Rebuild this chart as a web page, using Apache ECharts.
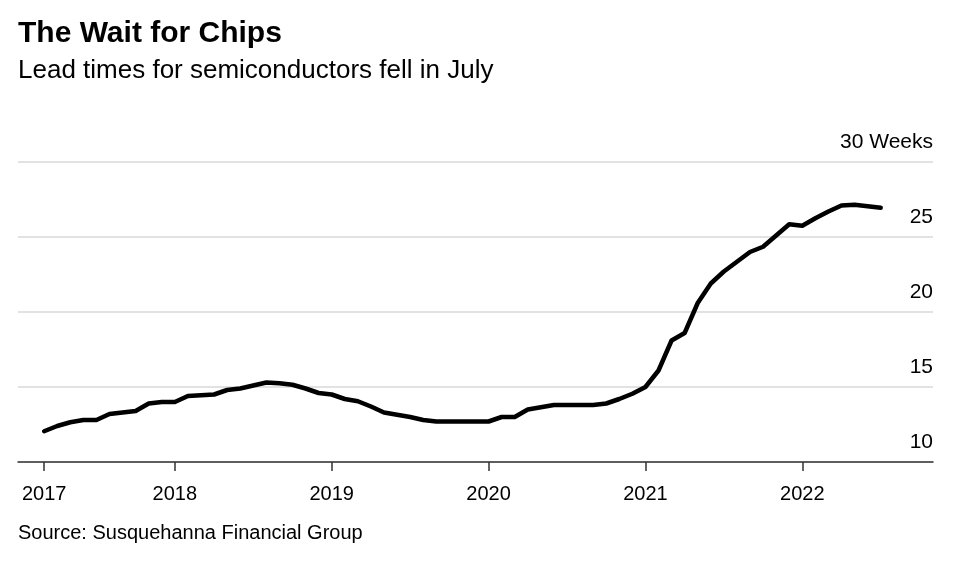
<!DOCTYPE html>
<html>
<head>
<meta charset="utf-8">
<script src="https://cdn.jsdelivr.net/npm/echarts@6/dist/echarts.min.js"></script>
<style>
  html, body { margin: 0; padding: 0; background: #fff; }
  #chart { width: 971px; height: 563px; }
</style>
</head>
<body>
<div id="chart"></div>
<script>
// monthly axis, Jan 2017 .. Nov 2022
const months = []
for (let y = 2017; y <= 2022; y++) {
  for (let m = 1; m <= 12; m++) {
    if (y === 2022 && m > 11) break
    months.push(y + '-' + String(m).padStart(2, '0'))
  }
}
// lead times in weeks, Mar 2017 .. Jul 2022
const firstMonth = '2017-03'
const leadTimes = [
  12.05, 12.4, 12.65, 12.8, 12.8, 13.2, 13.3, 13.4, 13.9, 14.0,
  14.0, 14.4, 14.45, 14.5, 14.8, 14.9, 15.1, 15.3, 15.25, 15.15,
  14.9, 14.6, 14.5, 14.2, 14.05, 13.7, 13.3, 13.15, 13.0, 12.8,
  12.7, 12.7, 12.7, 12.7, 12.7, 13.0, 13.0, 13.5, 13.65, 13.8,
  13.8, 13.8, 13.8, 13.9, 14.2, 14.55, 15.0, 16.1, 18.1, 18.6,
  20.6, 21.9, 22.7, 23.35, 24.0, 24.35, 25.1, 25.85, 25.75, 26.25,
  26.7, 27.1, 27.15, 27.05, 26.95
]
const tickMonths = ['2017-03', '2018-01', '2019-01', '2020-01', '2021-01', '2022-01']
const tickLabels = ['2017', '2018', '2019', '2020', '2021', '2022']

const start = months.indexOf(firstMonth)
const seriesData = months.map((m, i) => {
  const k = i - start
  return k >= 0 && k < leadTimes.length ? leadTimes[k] : null
})
const tickIdx = tickMonths.map((m) => months.indexOf(m))

const font = '"Liberation Sans", Arial, sans-serif'
const chart = echarts.init(document.getElementById('chart'))
chart.setOption({
  animation: false,
  textStyle: { fontFamily: font, color: '#000' },
  title: [
    {
      text: 'The Wait for Chips',
      left: 18,
      top: 19,
      padding: 0,
      textStyle: { fontFamily: font, fontSize: 30, fontWeight: 'bold', color: '#000' }
    },
    {
      text: 'Lead times for semiconductors fell in July',
      left: 18,
      top: 58,
      padding: 0,
      textStyle: { fontFamily: font, fontSize: 26, fontWeight: 'normal', color: '#000' }
    },
    {
      text: 'Source: Susquehanna Financial Group',
      left: 18,
      top: 523,
      padding: 0,
      textStyle: { fontFamily: font, fontSize: 20, fontWeight: 'normal', color: '#000' }
    }
  ],
  grid: {
    left: 18,
    right: 38,
    top: 162,
    bottom: 101
  },
  xAxis: {
    type: 'category',
    data: months,
    boundaryGap: false,
    axisLine: { lineStyle: { color: '#333', width: 1.5 } },
    axisTick: {
      length: 9,
      interval: (i) => tickIdx.includes(i),
      lineStyle: { color: '#333', width: 1.5 }
    },
    axisLabel: {
      interval: (i) => tickIdx.includes(i),
      margin: 22,
      fontSize: 20,
      color: '#000',
      formatter: (v) => tickLabels[tickMonths.indexOf(v)] || ''
    },
    splitLine: { show: false }
  },
  yAxis: {
    type: 'value',
    position: 'right',
    min: 10,
    max: 30,
    interval: 5,
    axisLine: { show: false },
    axisTick: { show: false },
    axisLabel: {
      inside: true,
      margin: 0,
      verticalAlign: 'bottom',
      padding: [0, 0, 9, 0],
      fontSize: 21,
      color: '#000',
      formatter: (v) => (v === 30 ? '30 Weeks' : String(v))
    },
    splitLine: { lineStyle: { color: '#d9d9d9', width: 1.5 } }
  },
  series: [
    {
      type: 'line',
      data: seriesData,
      showSymbol: false,
      connectNulls: false,
      lineStyle: { color: '#000', width: 4.5, cap: 'round', join: 'round' }
    }
  ]
})
</script>
</body>
</html>
